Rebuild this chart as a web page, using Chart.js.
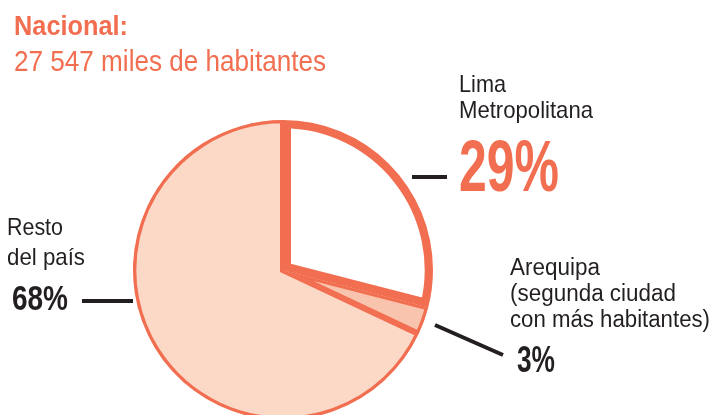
<!DOCTYPE html>
<html>
<head>
<meta charset="utf-8">
<script src="https://cdn.jsdelivr.net/npm/chart.js@4/dist/chart.umd.min.js"></script>
<style>
  html, body { margin: 0; padding: 0; background: #fff; }
  #wrap { width: 713px; height: 415px; position: relative; }
</style>
</head>
<body>
<div id="wrap"><canvas id="pie"></canvas></div>
<script>
// data (drawn order: Arequipa, Resto, Lima so Lima's thick border sits on top)
const categories = ['Arequipa', 'Resto del país', 'Lima Metropolitana'];
const shares = [3, 68, 29];
const titleLines = ['Nacional:', '27 547 miles de habitantes'];
const limaLines = ['Lima', 'Metropolitana'];
const arequipaLines = ['Arequipa', '(segunda ciudad', 'con más habitantes)'];
const restoLines = ['Resto', 'del país'];
const pctLabels = shares.map(v => v + '%');

const ORANGE = '#f26e50';
const DARK = '#231f20';
const FONT = '"Liberation Sans", Arial, sans-serif';

// draw a text squeezed to a given width (the original uses a condensed face)
function txt(ctx, s, x, base, size, bold, color, w) {
  ctx.save();
  ctx.font = (bold ? 'bold ' : '') + size + 'px ' + FONT;
  const m = ctx.measureText(s).width;
  ctx.translate(x, base);
  ctx.scale(w ? w / m : 1, 1);
  ctx.fillStyle = color;
  ctx.textBaseline = 'alphabetic';
  ctx.fillText(s, 0, 0);
  ctx.restore();
}

function line(ctx, x1, y1, x2, y2, lw) {
  ctx.save();
  ctx.strokeStyle = DARK;
  ctx.lineWidth = lw;
  ctx.beginPath();
  ctx.moveTo(x1, y1);
  ctx.lineTo(x2, y2);
  ctx.stroke();
  ctx.restore();
}

const labelsPlugin = {
  id: 'labelsPlugin',
  afterDraw(chart) {
    const ctx = chart.ctx;
    // title
    txt(ctx, titleLines[0], 14, 35, 28, true, ORANGE, 114);
    txt(ctx, titleLines[1], 14, 71, 30, false, ORANGE, 312);

    // Lima
    txt(ctx, limaLines[0], 459, 92, 24, false, DARK, 47);
    txt(ctx, limaLines[1], 459, 118, 24, false, DARK, 134);
    txt(ctx, pctLabels[2], 459, 191, 72, true, ORANGE, 100);
    line(ctx, 412, 177, 447, 177, 4);

    // Arequipa
    txt(ctx, arequipaLines[0], 510, 275, 23, false, DARK, 90);
    txt(ctx, arequipaLines[1], 510, 301, 23, false, DARK, 166);
    txt(ctx, arequipaLines[2], 510, 327, 23, false, DARK, 200);
    txt(ctx, pctLabels[0], 517, 372, 37, true, DARK, 38);
    line(ctx, 435, 325, 503, 355, 4);

    // Resto
    txt(ctx, restoLines[0], 7, 235, 24, false, DARK, 56);
    txt(ctx, restoLines[1], 7, 265, 24, false, DARK, 78);
    txt(ctx, pctLabels[1], 12, 310, 35, true, DARK, 56);
    line(ctx, 82, 301, 133, 301, 4);
  }
};

new Chart(document.getElementById('pie'), {
  type: 'pie',
  data: {
    labels: categories,
    datasets: [{
      data: shares,
      backgroundColor: ['#f9c4ad', '#fcd8c6', '#ffffff'],
      borderColor: ORANGE,
      borderWidth: [3, 3, 8],
      borderAlign: 'inner',
      borderJoinStyle: 'miter',
      radius: 150
    }]
  },
  options: {
    responsive: true,
    maintainAspectRatio: false,
    animation: false,
    rotation: shares[2] * 3.6,
    layout: { padding: { left: 133, right: 280, top: 125, bottom: 0 } },
    plugins: {
      legend: { display: false },
      tooltip: { enabled: false }
    }
  },
  plugins: [labelsPlugin]
});
</script>
</body>
</html>
